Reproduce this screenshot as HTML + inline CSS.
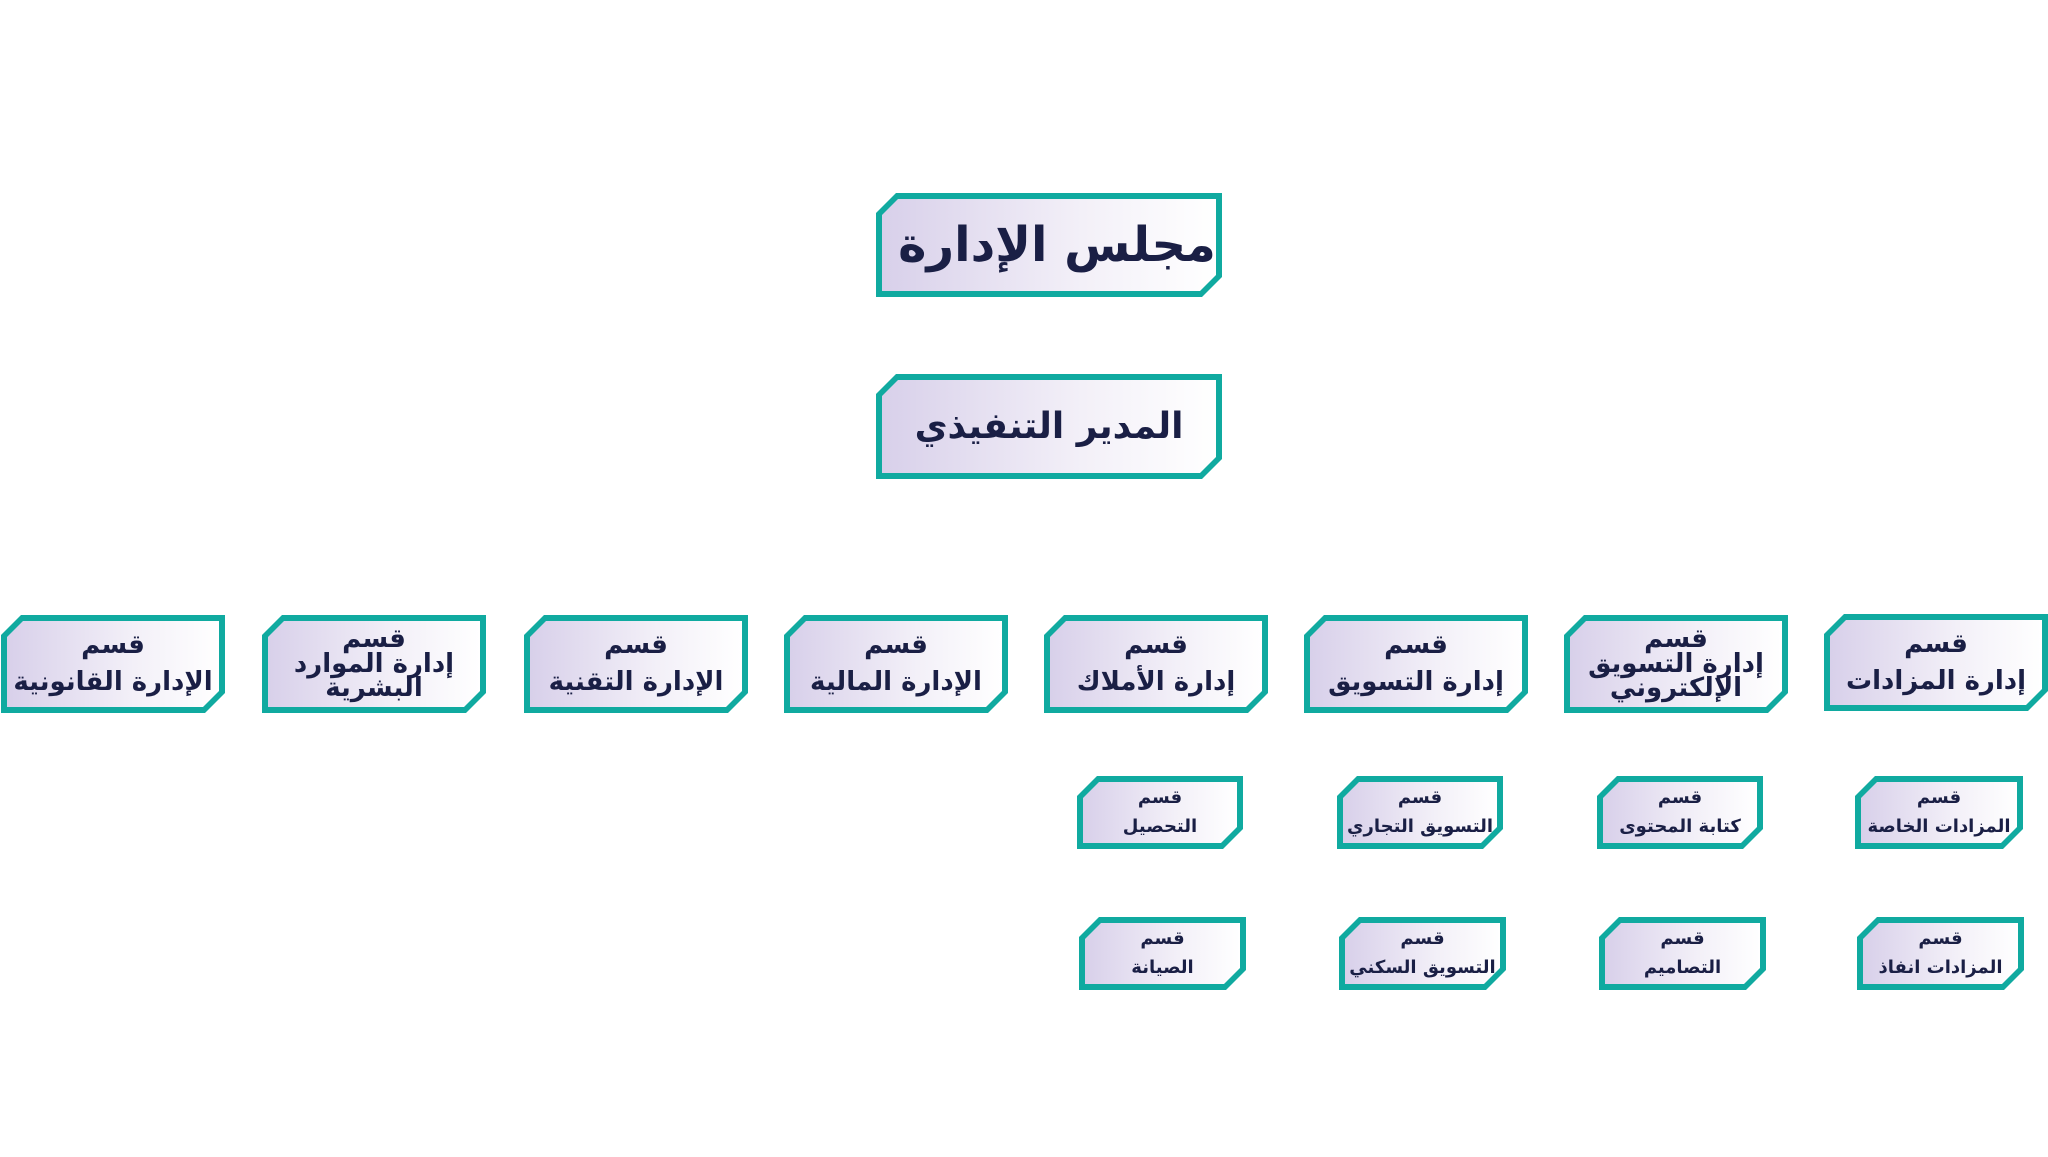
<!DOCTYPE html>
<html><head><meta charset="utf-8">
<style>
body{margin:0;width:2048px;height:1157px;background:#fff;position:relative;overflow:hidden;font-family:"DejaVu Sans",sans-serif;color:#1a1f45}
.b{position:absolute;background:#10aaa0;clip-path:polygon(20px 0,100% 0,100% calc(100% - 20px),calc(100% - 20px) 100%,0 100%,0 20px)}
.b>div{position:absolute;inset:6px;background:linear-gradient(90deg,#d8d0ea,#f3f0f8 60%,#fff);clip-path:polygon(16px 0,100% 0,100% calc(100% - 16px),calc(100% - 16px) 100%,0 100%,0 16px);display:flex;flex-direction:column;align-items:center;justify-content:center;direction:rtl;text-align:center;font-weight:bold;line-height:1;white-space:nowrap}
.l3>div{font-size:26px}
.l3 span{display:block;line-height:0.95}
.s>div{font-size:18px;justify-content:flex-start;padding-top:2px}
.s span{display:block;line-height:1.6}
</style></head><body>
<div class="b" style="left:876px;top:193px;width:346px;height:104px"><div style="font-size:48px;padding-left:16px">مجلس الإدارة</div></div>
<div class="b" style="left:876px;top:374px;width:346px;height:105px"><div style="font-size:36px">المدير التنفيذي</div></div>

<div class="b l3" style="left:1824px;top:614px;width:224px;height:97px"><div><span>قسم</span><span style="margin-top:12px">إدارة المزادات</span></div></div>
<div class="b l3" style="left:1564px;top:615px;width:224px;height:98px"><div><span>قسم</span><span>إدارة التسويق</span><span>الإلكتروني</span></div></div>
<div class="b l3" style="left:1304px;top:615px;width:224px;height:98px"><div><span>قسم</span><span style="margin-top:12px">إدارة التسويق</span></div></div>
<div class="b l3" style="left:1044px;top:615px;width:224px;height:98px"><div><span>قسم</span><span style="margin-top:12px">إدارة الأملاك</span></div></div>
<div class="b l3" style="left:784px;top:615px;width:224px;height:98px"><div><span>قسم</span><span style="margin-top:12px">الإدارة المالية</span></div></div>
<div class="b l3" style="left:524px;top:615px;width:224px;height:98px"><div><span>قسم</span><span style="margin-top:12px">الإدارة التقنية</span></div></div>
<div class="b l3" style="left:262px;top:615px;width:224px;height:98px"><div><span>قسم</span><span>إدارة الموارد</span><span>البشرية</span></div></div>
<div class="b l3" style="left:1px;top:615px;width:224px;height:98px"><div><span>قسم</span><span style="margin-top:12px">الإدارة القانونية</span></div></div>

<div class="b s" style="left:1855px;top:776px;width:168px;height:73px"><div><span>قسم</span><span>المزادات الخاصة</span></div></div>
<div class="b s" style="left:1597px;top:776px;width:166px;height:73px"><div><span>قسم</span><span>كتابة المحتوى</span></div></div>
<div class="b s" style="left:1337px;top:776px;width:166px;height:73px"><div><span>قسم</span><span>التسويق التجاري</span></div></div>
<div class="b s" style="left:1077px;top:776px;width:166px;height:73px"><div><span>قسم</span><span>التحصيل</span></div></div>

<div class="b s" style="left:1857px;top:917px;width:167px;height:73px"><div><span>قسم</span><span>المزادات انفاذ</span></div></div>
<div class="b s" style="left:1599px;top:917px;width:167px;height:73px"><div><span>قسم</span><span>التصاميم</span></div></div>
<div class="b s" style="left:1339px;top:917px;width:167px;height:73px"><div><span>قسم</span><span>التسويق السكني</span></div></div>
<div class="b s" style="left:1079px;top:917px;width:167px;height:73px"><div><span>قسم</span><span>الصيانة</span></div></div>
</body></html>
